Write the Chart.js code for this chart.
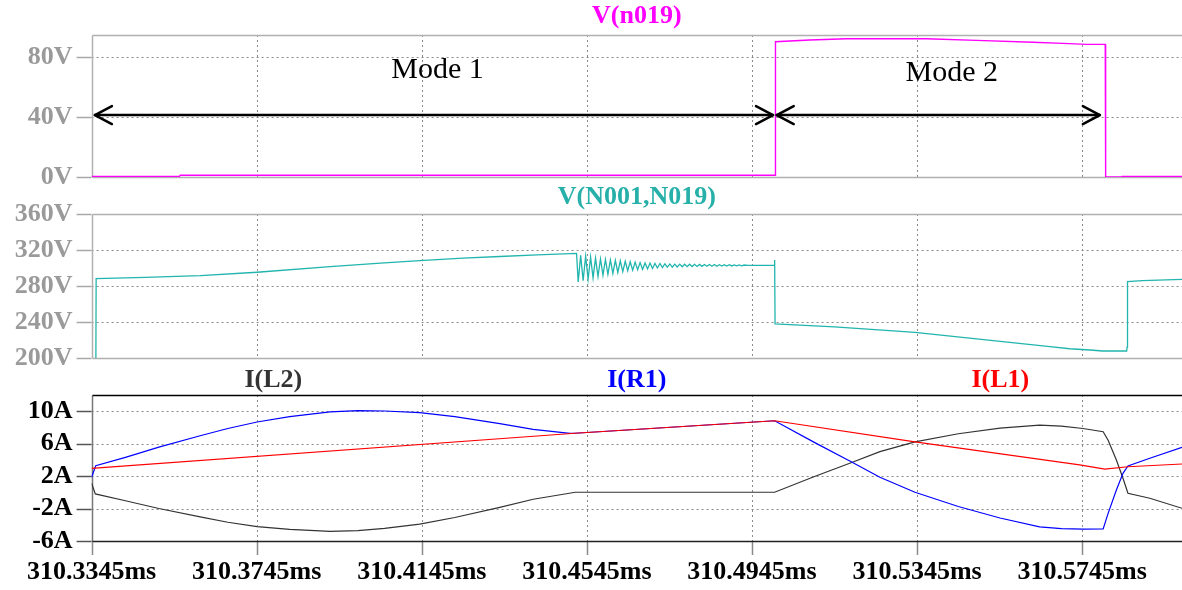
<!DOCTYPE html>
<html><head><meta charset="utf-8">
<script src="https://cdn.jsdelivr.net/npm/chart.js@4.4.0/dist/chart.umd.min.js"></script>
<style>
html,body{margin:0;padding:0;background:#fff;width:1182px;height:590px;overflow:hidden;}
.pane{position:absolute;left:0;width:1182px;}
</style></head><body>
<div class="pane" style="top:0;height:210px"><canvas id="c1"></canvas></div>
<div class="pane" style="top:180px;height:208px"><canvas id="c2"></canvas></div>
<div class="pane" style="top:360px;height:230px"><canvas id="c3"></canvas></div>
<script>
// ---- x axis (time offset in µs from 310.3345 ms) ----
const tickValues = [0, 40, 80, 120, 160, 200, 240];
const tickLabels = ['310.3345ms','310.3745ms','310.4145ms','310.4545ms','310.4945ms','310.5345ms','310.5745ms'];
const xMax = 264.2;

// ---- pane 1: V(n019) ----
const vn019T = [0, 21.3, 21.5, 165.6, 165.7, 174.0, 182.9, 202.3, 214.4, 228.1, 235.3, 241.1, 245.6, 245.7, 249.6, 249.7, 264.2];
const vn019V = [0.4, 0.4, 1.2, 1.2, 90.2, 91.3, 92.2, 92.2, 91.1, 89.8, 89.1, 88.4, 88.4, 0, 0, 0.4, 0.4];
const y1Ticks = [0, 40, 80];
const y1Labels = ['0V', '40V', '80V'];
const modeNames = ['Mode 1', 'Mode 2'];
const modeStart = [0.8, 166.0];
const modeEnd = [165.1, 244.3];
const modeArrowV = [41.3, 41.3];
const modeLabelT = [83.8, 208.4];
const modeLabelV = [71.5, 69.3];

// ---- pane 2: V(N001,N019) ----
const vn001PreT = [0, 1.0, 1.1, 13, 26.3, 40.1, 57.8, 70, 79.5, 90, 98.9, 108, 117.5];
const vn001PreV = [150, 150, 288.1, 289.6, 291.6, 295.3, 301.5, 305.5, 308.3, 311, 312.8, 314.5, 316.3];
const ringT = [117.9,118.5,119.1,119.7,120.3,120.9,121.5,122.1,122.7,123.3,123.9,124.5,125.1,125.7,126.3,126.9,127.5,128.1,128.7,129.3,129.9,130.5,131.1,131.7,132.3,132.9,133.5,134.1,134.7,135.3,135.9,136.5,137.1,137.7,138.3,138.9,139.5,140.1,140.7,141.3,141.9,142.5,143.1,143.7,144.3,144.9,145.5,146.1,146.7,147.3,147.9,148.5,149.1,149.7,150.3,150.9,151.5,152.1,152.7,153.3,153.9,154.5,155.1,155.7,156.3,156.9,157.5,158.1];
const ringV = [284.5,314,286,313,287.5,312,289,311,290.5,310,292,309.5,293,309,294,308.5,295,308,296,307.5,297,307,297.5,306.5,298,306,298.5,305.5,299,305.5,299.5,305,300,305,300.5,304.5,301,304.5,301,304.3,301.2,304.3,301.4,304.2,301.5,304.2,301.6,304.1,301.7,304,301.8,303.9,301.9,303.9,302,303.8,302,303.7,302.1,303.6,302.2,303.6,302.3,303.5,302.4,303.4,302.5,303.3];
const vn001PostT = [159.0, 165.4, 165.5, 165.6, 180, 199.5, 215, 232.2, 237.0, 241.9, 245.0, 250.8, 250.9, 251.0, 254.6, 264.2];
const vn001PostV = [303, 303, 309, 237.8, 234.5, 228.5, 221, 212.6, 210.3, 208.9, 207.8, 207.8, 212, 284.8, 285.9, 287.4];
const y2Ticks = [200, 240, 280, 320, 360];
const y2Labels = ['200V', '240V', '280V', '320V', '360V'];

// ---- pane 3: currents ----
const il1T = [0, 117.1, 165.5, 199.5, 239.4, 245.5, 251.1, 264.2];
const il1V = [2.95, 7.26, 8.8, 6.2, 3.36, 2.85, 3.14, 3.48];
const il2T = [0, 0.9, 8.2, 16.3, 26.3, 33, 40.1, 48, 57.8, 64.5, 71, 79.5, 88, 98.9, 107, 117.2, 165.5, 175, 183.7, 191, 199.5, 210, 220.1, 229.7, 235, 240.2, 245.1, 246.3, 248.3, 249.9, 251.1, 256.4, 264.2];
const il2V = [1.1, -0.2, -1.05, -2.0, -3.03, -3.69, -4.22, -4.58, -4.82, -4.73, -4.44, -3.92, -3.11, -1.86, -0.86, 0, 0, 1.9, 3.57, 5.0, 6.2, 7.2, 7.9, 8.25, 8.15, 7.85, 7.45, 6.4, 3.97, 1.72, -0.13, -0.74, -1.97];
const ir1T = [0, 1.0, 8.2, 16.3, 26.3, 33, 40.1, 48, 57.8, 64.5, 71, 79.5, 88, 98.9, 107, 115.9, 117.1, 165.5, 175, 183.7, 191, 199.5, 210, 220.1, 229.7, 235, 240.2, 245.1, 246.3, 248.3, 249.9, 251.1, 256.4, 264.2];
const ir1V = [1.85, 3.27, 4.3, 5.55, 6.95, 7.85, 8.65, 9.3, 9.9, 10.05, 10.0, 9.8, 9.3, 8.45, 7.75, 7.25, 7.26, 8.8, 6.17, 3.84, 1.85, 0.0, -1.75, -3.17, -4.25, -4.48, -4.55, -4.5, -2.6, 0.28, 2.33, 3.23, 4.18, 5.54];
const y3Ticks = [-6, -2, 2, 6, 10];
const y3Labels = ['-6A', '-2A', '2A', '6A', '10A'];

function pts(t, v) { return t.map((x, i) => ({x: x, y: v[i]})); }

const FONT = "'Liberation Serif', 'Times New Roman', serif";

function framePlugin(cfg) {
  return {
    id: 'frame_' + cfg.id,
    beforeDatasetsDraw(chart) {
      const ctx = chart.ctx, a = chart.chartArea;
      const xs = chart.scales.x, ys = chart.scales.y;
      ctx.save();
      ctx.lineWidth = 1;
      ctx.strokeStyle = '#8a8a8a';
      ctx.setLineDash([2, 3]);
      tickValues.forEach(v => {
        if (v === xs.min) return;
        const px = Math.round(xs.getPixelForValue(v)) + 0.5;
        ctx.beginPath(); ctx.moveTo(px, a.top); ctx.lineTo(px, a.bottom); ctx.stroke();
      });
      cfg.yTicks.forEach(v => {
        if (v === ys.min || v === ys.max) return;
        const py = Math.round(ys.getPixelForValue(v)) + 0.5;
        ctx.beginPath(); ctx.moveTo(a.left, py); ctx.lineTo(a.right, py); ctx.stroke();
      });
      ctx.setLineDash([]);
      ctx.strokeStyle = cfg.tickMarkColor;
      ctx.lineWidth = 1.5;
      cfg.yTicks.forEach(v => {
        const py = Math.round(ys.getPixelForValue(v)) + 0.5;
        ctx.beginPath(); ctx.moveTo(a.left - 15, py); ctx.lineTo(a.left, py); ctx.stroke();
      });
      if (cfg.showX) {
        ctx.strokeStyle = '#8a8a8a';
        tickValues.forEach(v => {
          const px = Math.round(xs.getPixelForValue(v)) + 0.5;
          ctx.beginPath(); ctx.moveTo(px, a.bottom); ctx.lineTo(px, a.bottom + 14); ctx.stroke();
        });
      }
      const L = Math.round(a.left) + 0.5, T = Math.round(a.top) + 0.5, B = Math.round(a.bottom) + 0.5;
      ctx.lineWidth = 1.5;
      ctx.strokeStyle = cfg.frameLeft;
      ctx.beginPath(); ctx.moveTo(L, T); ctx.lineTo(L, B); ctx.stroke();
      ctx.strokeStyle = cfg.frameTop;
      ctx.beginPath(); ctx.moveTo(L, T); ctx.lineTo(a.right, T); ctx.stroke();
      ctx.strokeStyle = cfg.frameBottom;
      ctx.beginPath(); ctx.moveTo(L, B); ctx.lineTo(a.right, B); ctx.stroke();
      ctx.restore();
    },
    afterDatasetsDraw(chart) {
      const ctx = chart.ctx, a = chart.chartArea;
      const xs = chart.scales.x, ys = chart.scales.y;
      ctx.save();
      ctx.textAlign = 'center';
      ctx.textBaseline = 'middle';
      ctx.font = 'bold 26px ' + FONT;
      cfg.titles.forEach(t => {
        ctx.fillStyle = t.color;
        ctx.fillText(t.text, a.left + (a.right - a.left) * t.frac, a.top - cfg.titleGap);
      });
      if (cfg.modes) {
        ctx.strokeStyle = '#000';
        ctx.fillStyle = '#000';
        ctx.lineWidth = 2.5;
        ctx.lineCap = 'round';
        ctx.lineJoin = 'round';
        modeNames.forEach((name, i) => {
          const x1 = xs.getPixelForValue(modeStart[i]);
          const x2 = xs.getPixelForValue(modeEnd[i]);
          const y = ys.getPixelForValue(modeArrowV[i]);
          ctx.beginPath(); ctx.moveTo(x1, y); ctx.lineTo(x2, y); ctx.stroke();
          ctx.beginPath(); ctx.moveTo(x1 + 17, y - 9); ctx.lineTo(x1, y); ctx.lineTo(x1 + 17, y + 9); ctx.stroke();
          ctx.beginPath(); ctx.moveTo(x2 - 17, y - 9); ctx.lineTo(x2, y); ctx.lineTo(x2 - 17, y + 9); ctx.stroke();
          ctx.font = '30px ' + FONT;
          ctx.fillText(name, xs.getPixelForValue(modeLabelT[i]), ys.getPixelForValue(modeLabelV[i]));
        });
      }
      ctx.restore();
    }
  };
}

function makePane(cfg) {
  return new Chart(document.getElementById(cfg.id), {
    type: 'line',
    data: {datasets: cfg.datasets},
    options: {
      responsive: true, maintainAspectRatio: false, animation: false,
      layout: {padding: {top: cfg.padTop, bottom: cfg.padBottom, left: 0, right: 0}},
      plugins: {legend: {display: false}, tooltip: {enabled: false}, title: {display: false}},
      elements: {point: {radius: 0}, line: {borderWidth: 1.3, tension: 0}},
      scales: {
        x: {
          type: 'linear', min: 0, max: xMax,
          afterBuildTicks: s => { s.ticks = tickValues.map(v => ({value: v})); },
          afterFit: s => { s.height = cfg.xHeight; },
          ticks: {display: cfg.showX, autoSkip: false, maxRotation: 0, minRotation: 0, padding: 2, color: '#000',
                  font: {family: FONT, weight: 'bold', size: 26}, callback: (v, i) => tickLabels[i]},
          grid: {display: true, drawOnChartArea: false, drawTicks: cfg.showX, tickLength: 14, color: 'rgba(0,0,0,0)', tickColor: 'rgba(0,0,0,0)'},
          border: {display: false}
        },
        y: {
          type: 'linear', min: cfg.yMin, max: cfg.yMax,
          afterBuildTicks: s => { s.ticks = cfg.yTicks.map(v => ({value: v})); },
          afterFit: s => { s.width = 91.6; },
          ticks: {autoSkip: false, padding: 4, color: cfg.yColor,
                  font: {family: FONT, weight: 'bold', size: 26}, callback: (v, i) => cfg.yLabels[i]},
          grid: {display: true, drawOnChartArea: false, drawTicks: true, tickLength: 15, color: 'rgba(0,0,0,0)', tickColor: 'rgba(0,0,0,0)'},
          border: {display: false}
        }
      }
    },
    plugins: [framePlugin(cfg)]
  });
}

makePane({
  id: 'c1', padTop: 35, padBottom: 33, xHeight: 0, showX: false,
  yMin: 0, yMax: 94.67, yTicks: y1Ticks, yLabels: y1Labels, yColor: '#9a9a9a',
  tickMarkColor: '#a8a8a8', frameLeft: '#b0b0b0', frameTop: '#b0b0b0', frameBottom: '#b0b0b0',
  titleGap: 19, modes: true,
  titles: [{text: 'V(n019)', color: '#ff00ff', frac: 0.5}],
  datasets: [{data: pts(vn019T, vn019V), borderColor: '#ff00ff', borderWidth: 1.4}]
});

makePane({
  id: 'c2', padTop: 34, padBottom: 30, xHeight: 0, showX: false,
  yMin: 200, yMax: 360, yTicks: y2Ticks, yLabels: y2Labels, yColor: '#9a9a9a',
  tickMarkColor: '#a8a8a8', frameLeft: '#b0b0b0', frameTop: '#b0b0b0', frameBottom: '#b0b0b0',
  titleGap: 17, modes: false,
  titles: [{text: 'V(N001,N019)', color: '#27b0a9', frac: 0.5}],
  datasets: [{data: pts(vn001PreT.concat(ringT, vn001PostT), vn001PreV.concat(ringV, vn001PostV)), borderColor: '#22b5ae', borderWidth: 1.3}]
});

makePane({
  id: 'c3', padTop: 35, padBottom: 0, xHeight: 49, showX: true,
  yMin: -6, yMax: 11.97, yTicks: y3Ticks, yLabels: y3Labels, yColor: '#000',
  tickMarkColor: '#555', frameLeft: '#777', frameTop: '#000', frameBottom: '#222',
  titleGap: 15, modes: false,
  titles: [{text: 'I(L2)', color: '#333333', frac: 1/6}, {text: 'I(R1)', color: '#0000ff', frac: 0.5}, {text: 'I(L1)', color: '#ff0000', frac: 5/6}],
  datasets: [
    {data: pts(il1T, il1V), borderColor: '#ff0000', borderWidth: 1.2},
    {data: pts(ir1T, ir1V), borderColor: '#0000ff', borderWidth: 1.2},
    {data: pts(il2T, il2V), borderColor: '#333333', borderWidth: 1.2}
  ]
});
</script>
</body></html>
